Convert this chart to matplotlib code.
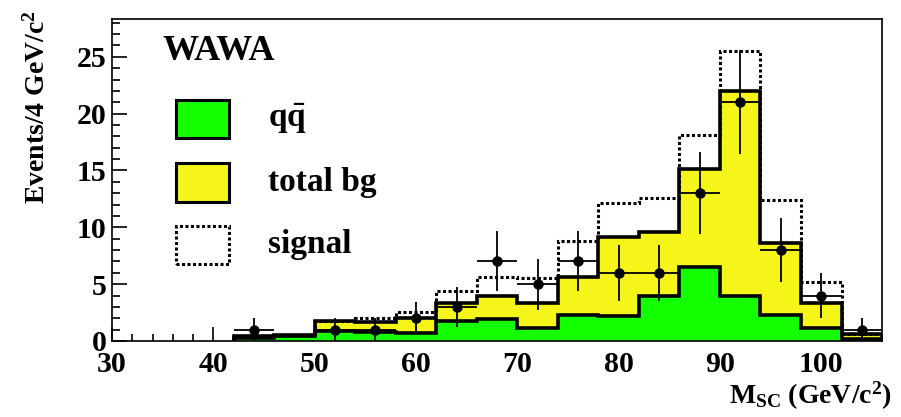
import numpy as np
import matplotlib
matplotlib.use("Agg")
import matplotlib.pyplot as plt
from matplotlib.patches import Rectangle
from matplotlib.ticker import MultipleLocator

plt.rcParams['font.family'] = ['Liberation Serif', 'DejaVu Serif']
plt.rcParams['font.weight'] = 'bold'
plt.rcParams['mathtext.fontset'] = 'custom'
plt.rcParams['mathtext.rm'] = 'Liberation Serif:bold'
plt.rcParams['mathtext.it'] = 'Liberation Serif:bold'
plt.rcParams['mathtext.bf'] = 'Liberation Serif:bold'

# bin edges (GeV/c^2), 4 GeV bins
edges = np.arange(42, 107, 4)
# qq background
qq = [0.3, 0.45, 0.85, 0.8, 0.7, 1.75, 1.9, 1.1, 2.3, 2.2, 4.0, 6.5, 4.0, 2.3, 1.1, 0.2]
# total background
total_bg = [0.4, 0.5, 1.8, 1.7, 2.0, 3.35, 4.0, 3.3, 5.6, 9.15, 9.6, 15.1, 22.0, 8.6, 3.3, 0.6]
# background + signal
signal = [0.4, 0.5, 1.8, 2.0, 2.55, 4.4, 5.6, 5.5, 8.8, 12.1, 12.6, 18.1, 25.5, 12.4, 5.2, 0.65]
# observed data
data_x = [44, 52, 56, 60, 64, 68, 72, 76, 80, 84, 88, 92, 96, 100, 104]
data_y = [1, 1, 1, 2, 3, 7, 5, 7, 6, 6, 13, 21, 8, 4, 1]

fig = plt.figure(figsize=(9.01, 4.17), dpi=100)
ax = fig.add_axes([0.1243, 0.1823, 0.8547, 0.7714])

green = '#14ff00'
yellow = '#f5f51a'

ax.stairs(total_bg, edges, fill=True, color=yellow, zorder=1)
ax.stairs(qq, edges, fill=True, color=green, zorder=2)
ax.stairs(total_bg, edges, color='black', lw=2.6, zorder=3)
ax.stairs(qq, edges, color='black', lw=2.6, zorder=3)
ax.stairs(signal, edges, color='black', lw=2.2, ls=(0, (1.0, 0.8)), zorder=4)

derr = np.sqrt(np.array(data_y, dtype=float))
ax.errorbar(data_x, data_y, yerr=derr, xerr=2, fmt='o', color='black',
            ms=6.5, lw=1.3, capsize=0, zorder=5)

ax.set_xlim(30, 106)
ax.set_ylim(0, 28.3)
ax.xaxis.set_major_locator(MultipleLocator(10))
ax.xaxis.set_minor_locator(MultipleLocator(2))
ax.yaxis.set_major_locator(MultipleLocator(5))
ax.yaxis.set_minor_locator(MultipleLocator(1))
ax.tick_params(which='both', direction='in', top=False, right=False,
               labelsize=21.5, width=1.2)
ax.tick_params(axis='x', which='major', length=10, pad=7)
ax.tick_params(axis='x', which='minor', length=5)
ax.tick_params(axis='y', which='major', length=11, pad=4)
ax.tick_params(axis='y', which='minor', length=6)
for s in ax.spines.values():
    s.set_linewidth(1.2)

ax.set_ylabel(r'Events/4 GeV/c$^2$', fontsize=20, fontweight='bold', loc='top')
ax.yaxis.set_label_coords(-0.08, 1.03)
ax.set_xlabel(r'M$_{SC}$ (GeV/c$^2$)', fontsize=20, fontweight='bold', loc='right')
ax.xaxis.set_label_coords(1.012, -0.12)

ax.text(0.066, 0.873, 'WAWA', transform=ax.transAxes, fontsize=26,
        fontweight='bold', ha='left', va='baseline')

# legend
leg_items = [(r'$\mathrm{q}\bar{\mathrm{q}}$', green, '-', 0.630),
             ('total bg', yellow, '-', 0.432),
             ('signal', 'white', ':', 0.239)]
for label, fc, ls, y0 in leg_items:
    ax.add_patch(Rectangle((0.0831, y0), 0.0688, 0.12, transform=ax.transAxes,
                           facecolor=fc, edgecolor='black',
                           lw=2.2, ls=ls if ls == '-' else (0, (1.0, 0.8)),
                           zorder=6, clip_on=False))
    ax.text(0.2026, y0 + 0.06, label, transform=ax.transAxes, fontsize=24,
            fontweight='bold', ha='left', va='center')

fig.savefig('out.png', dpi=100)
